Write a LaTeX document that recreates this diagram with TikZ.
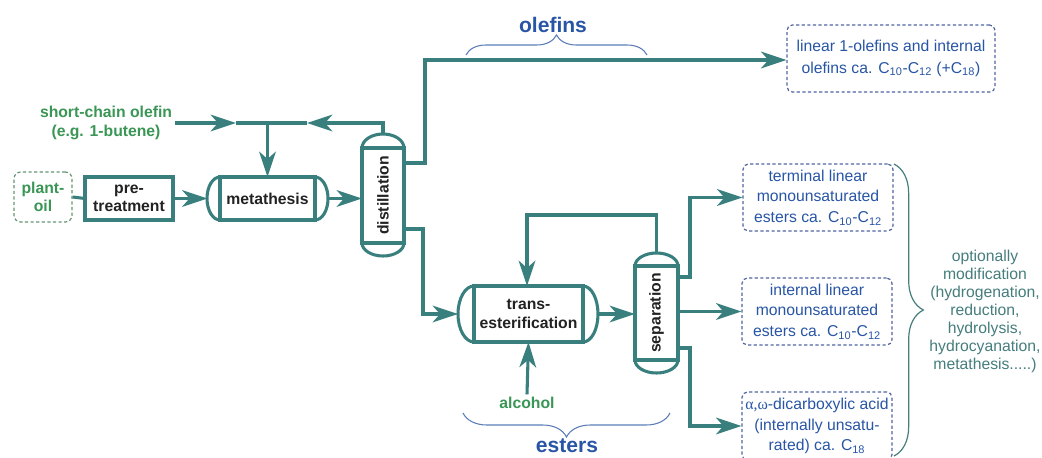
\documentclass[tikz,border=0pt]{standalone}
\usepackage{fontspec}
\setmainfont{Liberation Sans}
\newfontfamily\greekfont{Liberation Serif}
\usetikzlibrary{arrows.meta,decorations.pathreplacing,calc}
\definecolor{tealc}{RGB}{56,127,126}
\definecolor{grn}{RGB}{58,150,85}
\definecolor{grnb}{RGB}{100,150,115}
\definecolor{blu}{RGB}{40,85,165}
\definecolor{dashb}{RGB}{80,100,160}
\definecolor{brc}{RGB}{90,125,185}
\definecolor{optc}{RGB}{70,125,125}
\definecolor{txt}{RGB}{34,34,34}
\tikzset{
  flow/.style={draw=tealc, line width=2.3pt, -{Stealth[length=19pt,width=12.5pt,inset=5.5pt]}},
  pipe/.style={draw=tealc, line width=2.3pt},
  unitbox/.style={draw=tealc, line width=2.3pt, fill=white, text=txt, font=\bfseries\fontsize{11.8}{13.7}\selectfont, align=center, inner sep=0pt, outer sep=0pt},
  vesselcap/.style={draw=tealc, line width=2.3pt},
  prodbox/.style={draw=dashb, line width=0.9pt, dash pattern=on 2.4pt off 1.8pt, rounded corners=4pt, text=blu, font=\fontsize{11.8}{15.6}\selectfont, align=center, inner sep=0pt},
  feed/.style={text=grn, font=\bfseries\fontsize{11.8}{14}\selectfont, align=center},
  bracec/.style={draw=brc, line width=0.8pt, decorate},
  grouplabel/.style={text=blu, font=\bfseries\fontsize{15.8}{18}\selectfont},
}
\begin{document}
\begin{tikzpicture}[x=0.75pt,y=-0.75pt]
\useasboundingbox (0,0) rectangle (1042,457);
\clip (0,0) rectangle (1042,457);
\fill[white] (0,0) rectangle (1042,457);

% feed and first units
\node[draw=grnb, line width=0.9pt, dash pattern=on 2.4pt off 1.8pt, rounded corners=5pt,
      minimum width=43.5pt, minimum height=37.5pt, inner sep=0pt, feed] (plant) at (43,197) {plant-\\oil};
\node[unitbox, minimum width=66pt, minimum height=32.25pt] (pre) at (129,198.5) {pre-\\treatment};

% metathesis vessel
\node[unitbox, minimum width=71.25pt, minimum height=32.25pt] (meta) at (267.5,198.5) {metathesis};
\draw[vesselcap] (meta.north east) arc[start angle=90, end angle=-90, x radius=9.75pt, y radius=16.125pt];
\draw[vesselcap] (meta.north west) arc[start angle=90, end angle=270, x radius=9.75pt, y radius=16.125pt];
\coordinate (metaL) at (207.5,198.5);
\coordinate (metaR) at (328,198.5);

% distillation column
\node[unitbox, minimum width=31.5pt, minimum height=71.25pt] (dist) at (383,195.5) {};
\node[rotate=90, text=txt, font=\bfseries\fontsize{11.8}{13.7}\selectfont] (distlabel) at (dist.center) {distillation};
\draw[vesselcap] (dist.north west) arc[start angle=180, end angle=0, x radius=15.75pt, y radius=10.5pt];
\draw[vesselcap] (dist.south west) arc[start angle=180, end angle=360, x radius=15.75pt, y radius=9.75pt];
\coordinate (distT) at (383,134);
\coordinate (distL) at (362,198.5);

% trans-esterification vessel
\node[unitbox, minimum width=81.75pt, minimum height=42pt] (trans) at (528.5,314) {trans-\\esterification};
\draw[vesselcap] (trans.north east) arc[start angle=90, end angle=-90, x radius=11.25pt, y radius=21pt];
\draw[vesselcap] (trans.north west) arc[start angle=90, end angle=270, x radius=12pt, y radius=21pt];
\coordinate (transL) at (458,314);
\coordinate (transR) at (598,314);

% separation column
\node[unitbox, minimum width=32.25pt, minimum height=70.5pt] (sep) at (656.5,313) {};
\node[rotate=90, text=txt, font=\bfseries\fontsize{11.8}{13.7}\selectfont] (seplabel) at (sep.center) {separation};
\draw[vesselcap] (sep.north west) arc[start angle=180, end angle=0, x radius=16.125pt, y radius=9.75pt];
\draw[vesselcap] (sep.south west) arc[start angle=180, end angle=360, x radius=16.125pt, y radius=9.75pt];
\coordinate (sepT) at (656.5,254);
\coordinate (sepL) at (635,314);

% product boxes
\node[prodbox, minimum width=156pt, minimum height=50.25pt, font=\fontsize{11.8}{16.3}\selectfont] (olbox) at (891,58.5)
  {linear 1-olefins and internal\\olefins ca. C\textsubscript{10}-C\textsubscript{12} (+C\textsubscript{18})};
\node[prodbox, minimum width=112.5pt, minimum height=50.25pt] (termbox) at (818,197.5)
  {terminal linear\\monounsaturated\\esters ca. C\textsubscript{10}-C\textsubscript{12}};
\node[prodbox, minimum width=112.5pt, minimum height=50.25pt] (intbox) at (817,311.5)
  {internal linear\\monounsaturated\\esters ca. C\textsubscript{10}-C\textsubscript{12}};
\node[prodbox, minimum width=112.5pt, minimum height=51pt] (acidbox) at (817,426)
  {{\greekfont α,ω}-dicarboxylic acid\\(internally unsatu-\\rated) ca. C\textsubscript{18}};

% feeds
\node[feed, inner sep=2pt] (sco) at (106,123) {short-chain olefin\\(e.g. 1-butene)};
\node[feed, inner sep=2pt] (alc) at (527,403) {alcohol};

% connectors, left part
\draw[pipe] (plant.east) -- (pre.west);
\draw[flow] (pre.east) -- (metaL);
\draw[flow] (metaR) -- (distL);
\coordinate (junc) at (267.5,123);
\coordinate (tipA) at (236,123);
\coordinate (tipB) at (307,123);
\coordinate (distTop) at (383,123);
\draw[flow] (sco.east) -- (tipA);
\draw[pipe] (tipA) -- (junc);
\draw[flow] (distT) -- (distTop) -- (tipB);
\draw[pipe] (tipB) -- (junc);
\draw[flow] (junc) -- (meta.north);

% olefin outlet
\coordinate (olA) at (404,163);
\coordinate (olB) at (425,163);
\coordinate (olC) at (425,60);
\draw[flow] (olA) -- (olB) -- (olC) -- (olC -| olbox.west);

% ester outlet
\coordinate (esA) at (404,229);
\coordinate (esB) at (423,229);
\coordinate (esC) at (423,314);
\draw[flow] (esA) -- (esB) -- (esC) -- (transL);

% transesterification
\draw[flow] (transR) -- (sepL);
\draw[flow] (alc.north) -- (trans.south);
\coordinate (rcA) at (656.5,215);
\coordinate (rcB) at (527,215);
\draw[flow] (sepT) -- (rcA) -- (rcB) -- (rcB |- trans.north);

% separation outlets
\coordinate (s1) at (678,277);
\coordinate (s1b) at (690,277);
\draw[flow] (s1) -- (s1b) -- (s1b |- termbox.west) -- (termbox.west);
\draw[flow] (sep.east |- intbox.west) -- (intbox.west);
\coordinate (s3) at (678,348);
\coordinate (s3b) at (690,348);
\draw[flow] (s3) -- (s3b) -- (s3b |- acidbox.west) -- (acidbox.west);

% braces
\draw[bracec, decoration={brace, amplitude=15pt}] (466,55) -- (647,55);
\node[grouplabel] (olefins) at (553,25) {olefins};
\draw[bracec, decoration={brace, amplitude=18pt}] (670,413) -- (463,413);
\node[grouplabel, anchor=base, inner sep=0pt] (esters) at (567,452) {esters};
\draw[draw=optc, line width=0.9pt, decorate, decoration={brace, amplitude=22pt}] (894,164) -- (894,456);
\node[text=optc, font=\fontsize{11.8}{13.5}\selectfont, align=center] (opt) at (985,311)
  {optionally\\modification\\(hydrogenation,\\reduction,\\hydrolysis,\\hydrocyanation,\\metathesis.....)};
\end{tikzpicture}
\end{document}
